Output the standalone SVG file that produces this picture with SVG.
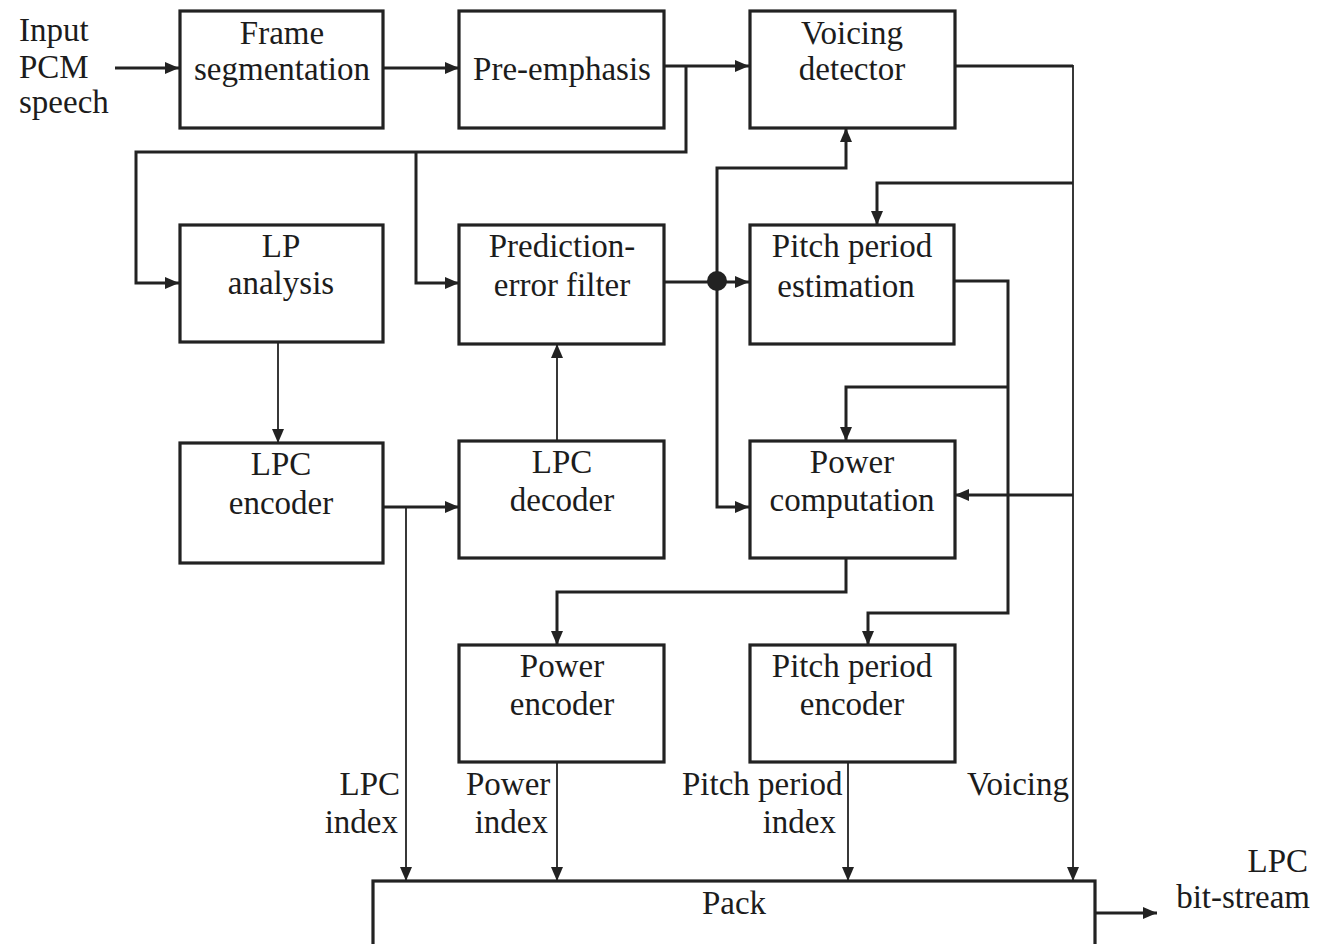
<svg xmlns="http://www.w3.org/2000/svg" width="1317" height="944" viewBox="0 0 1317 944">
<style>
.box{fill:#fff;stroke:#222;stroke-width:3.2}
.t{font-family:"Liberation Serif","Times New Roman",serif;font-size:33px;fill:#1c1c1c;text-anchor:middle}
.l{font-family:"Liberation Serif","Times New Roman",serif;font-size:33px;fill:#1c1c1c}
.c{fill:none;stroke:#222;stroke-width:3;stroke-linejoin:miter}
.n{fill:none;stroke:#222;stroke-width:1.8}
</style>
<defs>
<marker id="a" markerUnits="userSpaceOnUse" markerWidth="14" markerHeight="12" refX="14" refY="6" orient="auto" viewBox="0 0 14 12">
<path d="M0,0 L14,6 L0,12 z" fill="#222"/>
</marker>
</defs>
<rect width="1317" height="944" fill="#fff"/>
<g id="connectors">
<path class="c" d="M115,68 H179" marker-end="url(#a)"/>
<path class="c" d="M383,68 H459" marker-end="url(#a)"/>
<path class="c" d="M664,66 H749" marker-end="url(#a)"/>
<path class="c" d="M686,66 V152 H136 V283 H179" marker-end="url(#a)"/>
<path class="c" d="M416,152 V283 H459" marker-end="url(#a)"/>
<path class="c" d="M664,282 H749" marker-end="url(#a)"/>
<path class="c" d="M717,281 V168 H846 V128" marker-end="url(#a)"/>
<path class="c" d="M717,281 V507 H749" marker-end="url(#a)"/>
<path class="c" d="M955,66 H1073"/>
<path class="n" d="M1073,65 V881" marker-end="url(#a)"/>
<path class="c" d="M1073,183 H877 V225" marker-end="url(#a)"/>
<path class="c" d="M1073,495 H955" marker-end="url(#a)"/>
<path class="c" d="M955,281 H1008 V613 H868 V645" marker-end="url(#a)"/>
<path class="c" d="M1008,387 H846 V441" marker-end="url(#a)"/>
<path class="c" d="M846,558 V592 H557 V645" marker-end="url(#a)"/>
<path class="n" d="M278,342 V443" marker-end="url(#a)"/>
<path class="n" d="M557,441 V344" marker-end="url(#a)"/>
<path class="c" d="M383,507 H459" marker-end="url(#a)"/>
<path class="n" d="M406,507 V881" marker-end="url(#a)"/>
<path class="n" d="M557,762 V881" marker-end="url(#a)"/>
<path class="n" d="M848,762 V881" marker-end="url(#a)"/>
<path class="c" d="M1095,913 H1157" marker-end="url(#a)"/>
<circle cx="717" cy="281" r="10" fill="#222"/>
</g>
<g id="input-label">
<text class="l" x="19" y="41">Input</text>
<text class="l" x="19" y="78">PCM</text>
<text class="l" x="19" y="113">speech</text>
</g>
<g id="frame-seg">
<rect class="box" x="180" y="11" width="203" height="117"/>
<text class="t" x="282" y="44">Frame</text>
<text class="t" x="282" y="80">segmentation</text>
</g>
<g id="pre-emphasis">
<rect class="box" x="459" y="11" width="205" height="117"/>
<text class="t" x="562" y="80">Pre-emphasis</text>
</g>
<g id="voicing-detector">
<rect class="box" x="750" y="11" width="205" height="117"/>
<text class="t" x="852" y="44">Voicing</text>
<text class="t" x="852" y="80">detector</text>
</g>
<g id="lp-analysis">
<rect class="box" x="180" y="225" width="203" height="117"/>
<text class="t" x="281" y="257">LP</text>
<text class="t" x="281" y="294">analysis</text>
</g>
<g id="prediction-error-filter">
<rect class="box" x="459" y="225" width="205" height="119"/>
<text class="t" x="562" y="257">Prediction-</text>
<text class="t" x="562" y="296">error filter</text>
</g>
<g id="pitch-period-estimation">
<rect class="box" x="750" y="225" width="204" height="119"/>
<text class="t" x="852" y="257">Pitch period</text>
<text class="t" x="846" y="297">estimation</text>
</g>
<g id="lpc-encoder">
<rect class="box" x="180" y="443" width="203" height="120"/>
<text class="t" x="281" y="475">LPC</text>
<text class="t" x="281" y="514">encoder</text>
</g>
<g id="lpc-decoder">
<rect class="box" x="459" y="441" width="205" height="117"/>
<text class="t" x="562" y="473">LPC</text>
<text class="t" x="562" y="511">decoder</text>
</g>
<g id="power-computation">
<rect class="box" x="750" y="441" width="205" height="117"/>
<text class="t" x="852" y="473">Power</text>
<text class="t" x="852" y="511">computation</text>
</g>
<g id="power-encoder">
<rect class="box" x="459" y="645" width="205" height="117"/>
<text class="t" x="562" y="677">Power</text>
<text class="t" x="562" y="715">encoder</text>
</g>
<g id="pitch-period-encoder">
<rect class="box" x="750" y="645" width="205" height="117"/>
<text class="t" x="852" y="677">Pitch period</text>
<text class="t" x="852" y="715">encoder</text>
</g>
<g id="pack">
<rect class="box" x="373" y="881" width="722" height="66"/>
<text class="t" x="734" y="914">Pack</text>
</g>
<g id="labels">
<text class="l" x="400" y="795" text-anchor="end">LPC</text>
<text class="l" x="398" y="833" text-anchor="end">index</text>
<text class="l" x="466" y="795">Power</text>
<text class="l" x="548" y="833" text-anchor="end">index</text>
<text class="l" x="682" y="795">Pitch period</text>
<text class="l" x="836" y="833" text-anchor="end">index</text>
<text class="l" x="1069" y="795" text-anchor="end">Voicing</text>
<text class="l" x="1308" y="872" text-anchor="end">LPC</text>
<text class="l" x="1310" y="908" text-anchor="end">bit-stream</text>
</g>
</svg>
